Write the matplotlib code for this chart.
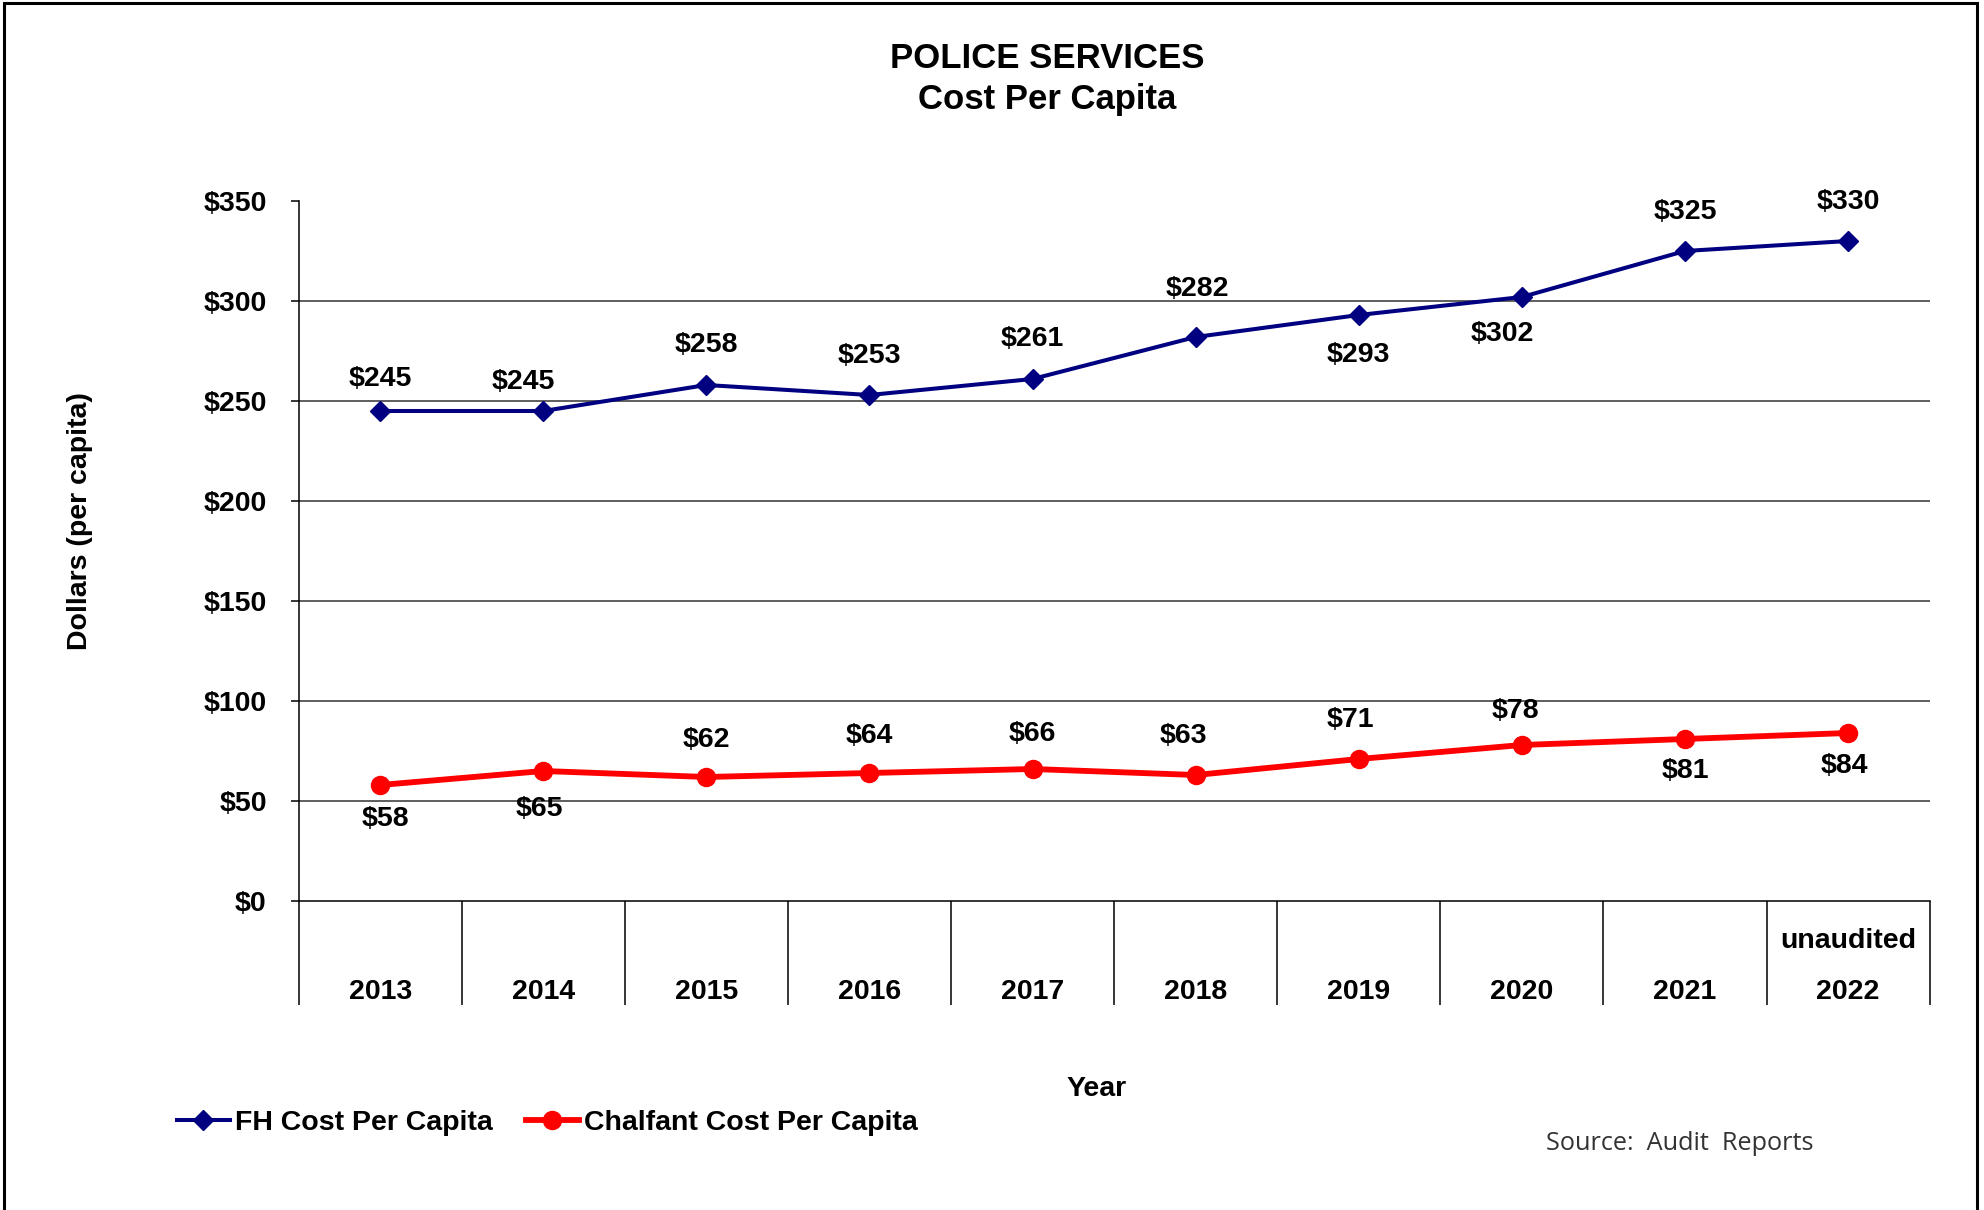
import matplotlib
matplotlib.use("Agg")
import matplotlib.pyplot as plt
from matplotlib.patches import Rectangle

# ---- data ----
years = ["2013", "2014", "2015", "2016", "2017", "2018", "2019", "2020", "2021", "2022"]
year_notes = ["", "", "", "", "", "", "", "", "", "unaudited"]
fh_cost = [245, 245, 258, 253, 261, 282, 293, 302, 325, 330]
chalfant_cost = [58, 65, 62, 64, 66, 63, 71, 78, 81, 84]
y_ticks = [0, 50, 100, 150, 200, 250, 300, 350]

# label placement (style): vertical / horizontal offsets in pixels
fh_dy = [32, 29, 40, 39, 40, 48, -40, -37, 39, 39]
fh_dx = [0, -20, 0, 0, 0, 2, 0, -20, 0, 0]
ch_dy = [-34, -38, 37, 37, 35, 39, 39, 34, -32, -33]
ch_dx = [5, -4, 0, 0, 0, -12, -8, -6, 0, -4]

W, H, DPI = 1984, 1210, 100
plt.rcParams['font.family'] = ['Liberation Sans', 'DejaVu Sans']
FS = 20.5

fig = plt.figure(figsize=(W / DPI, H / DPI), dpi=DPI)
fig.patch.set_facecolor('white')

left, right, top, bottom = 298.6, 1929.6, 201, 901
ax = fig.add_axes([left / W, 1 - bottom / H, (right - left) / W, (bottom - top) / H])

x = list(range(len(years)))
FH_COLOR = '#000080'
CH_COLOR = '#FF0000'

l1, = ax.plot(x, fh_cost, color=FH_COLOR, lw=2.9, marker='D', ms=10.5,
              label='FH Cost Per Capita', zorder=4, clip_on=False)
l2, = ax.plot(x, chalfant_cost, color=CH_COLOR, lw=4.2, marker='o', ms=13,
              label='Chalfant Cost Per Capita', zorder=4, clip_on=False)

for xi, v, dy, dx in zip(x, fh_cost, fh_dy, fh_dx):
    ax.annotate(f"${v}", (xi, v), xytext=(dx, dy), textcoords='offset pixels',
                ha='center', va='center', fontsize=FS, fontweight='bold', color='black')
for xi, v, dy, dx in zip(x, chalfant_cost, ch_dy, ch_dx):
    ax.annotate(f"${v}", (xi, v), xytext=(dx, dy), textcoords='offset pixels',
                ha='center', va='center', fontsize=FS, fontweight='bold', color='black')

ax.set_xlim(-0.5, len(years) - 0.5)
ax.set_ylim(0, 350)

# gridlines (no line at the top value)
for yv in y_ticks[1:-1]:
    ax.axhline(yv, color='#333333', lw=1.1, zorder=1)

ax.set_yticks(y_ticks)
ax.set_yticklabels([f"${v}" for v in y_ticks], fontsize=FS, fontweight='bold')
ax.tick_params(axis='y', length=6, width=1.1, pad=17, color='black')

ax.set_xticks(x)
ax.set_xticklabels(years, fontsize=FS, fontweight='bold')
ax.tick_params(axis='x', which='major', length=0, pad=56)
ax.set_xticks([i - 0.5 for i in range(len(years) + 1)], minor=True)
ax.tick_params(axis='x', which='minor', length=75, width=1.1, color='black', direction='out')

for xi, note in zip(x, year_notes):
    if note:
        ax.text(xi, -40 / 700, note, transform=ax.get_xaxis_transform(),
                ha='center', va='center', fontsize=FS, fontweight='bold')

for sp in ['top', 'right']:
    ax.spines[sp].set_visible(False)
ax.spines['left'].set_linewidth(1.1)
ax.spines['bottom'].set_linewidth(1.1)

ax.set_ylabel('Dollars (per capita)', fontsize=FS, fontweight='bold', va='center')
ax.yaxis.set_label_coords((80 - left) / (right - left), (bottom - 521) / (bottom - top))
ax.set_xlabel('Year', fontsize=FS, fontweight='bold', va='center')
ax.xaxis.set_label_coords((1097 - left) / (right - left), (bottom - 1089) / (bottom - top))

fig.text(1047 / W, 1 - 59 / H, 'POLICE SERVICES', ha='center', va='center',
         fontsize=25, fontweight='bold')
fig.text(1047 / W, 1 - 99 / H, 'Cost Per Capita', ha='center', va='center',
         fontsize=25, fontweight='bold')

leg = ax.legend(handles=[l1, l2], loc='center left',
                bbox_to_anchor=(177 / W, 1 - 1123 / H), bbox_transform=fig.transFigure,
                ncol=2, frameon=False, borderpad=0, borderaxespad=0,
                handlelength=1.86, handletextpad=0.18, columnspacing=1.16,
                prop={'size': FS, 'weight': 'bold'})

fig.text(1546 / W, 1 - 1143 / H, 'Source:  Audit  Reports', ha='left', va='center',
         fontsize=18.2, family=['Open Sans', 'DejaVu Sans'], color='#333333')

# outer frame
fig.patches.append(Rectangle((4 / W, -0.01), (1977 - 4) / W, 1.01 - 3 / H,
                             transform=fig.transFigure, fill=False,
                             edgecolor='black', lw=2.2))

fig.savefig('out.png', dpi=DPI, facecolor='white')
